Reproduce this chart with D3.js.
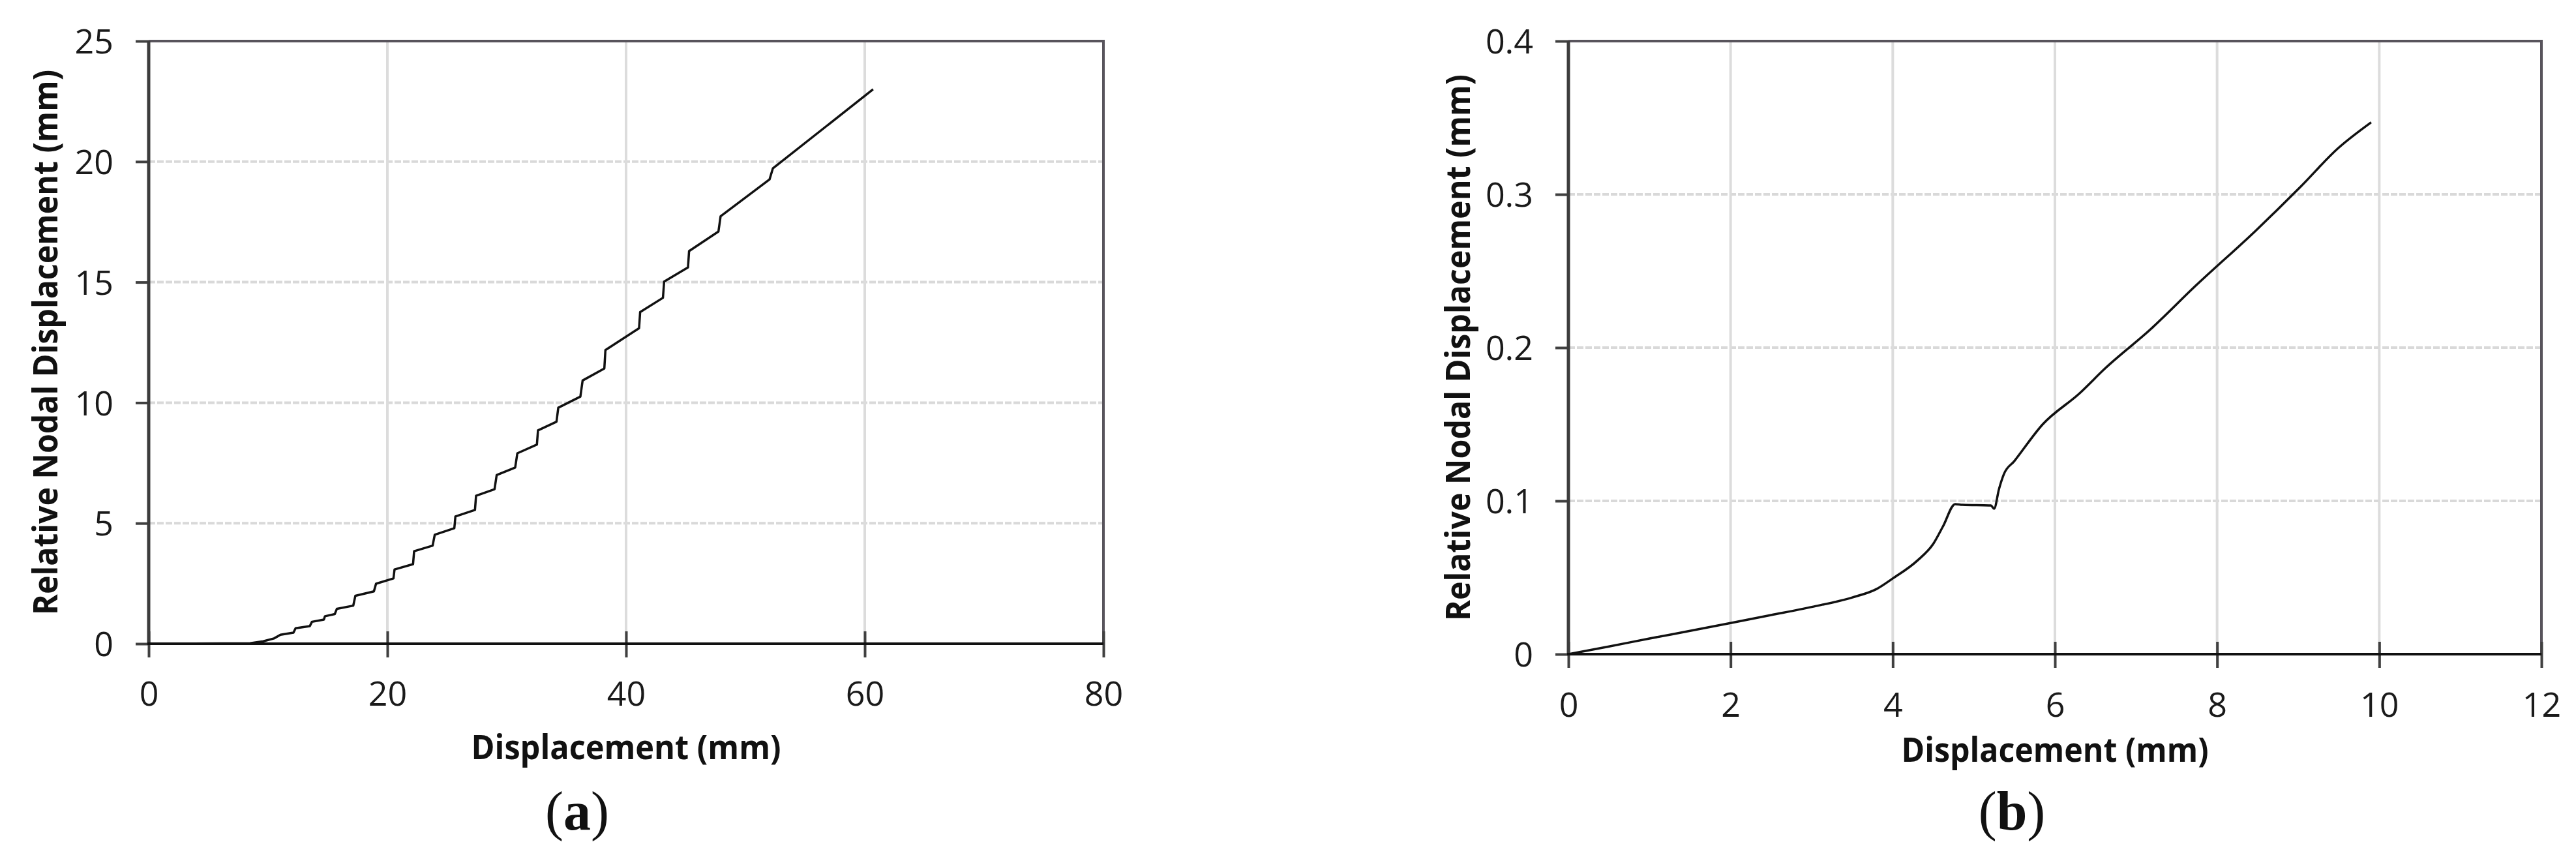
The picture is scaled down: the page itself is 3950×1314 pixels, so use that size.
<!DOCTYPE html>
<html>
<head>
<meta charset="utf-8">
<script src="https://cdn.jsdelivr.net/npm/d3@7"></script>
<style>
  body { margin: 0; background: #fff; }
  svg { display: block; }
</style>
</head>
<body>
<div id="fig"></div>
<script>
// ---- panel (a) data ----
const dispA = [0, 8.5, 9.6, 10.5, 11.04, 12.13, 12.31, 13.50, 13.68, 14.68, 14.77, 15.59, 15.77,
  17.14, 17.32, 18.87, 19.05, 20.51, 20.60, 22.15, 22.24, 23.79, 23.97, 25.61, 25.70, 27.34, 27.43,
  28.98, 29.16, 30.71, 30.89, 32.53, 32.62, 34.17, 34.32, 36.17, 36.36, 38.18, 38.27, 41.09, 41.18,
  43.09, 43.19, 45.19, 45.28, 47.74, 47.92, 52.02, 52.30, 60.7];
const relA = [0, 0.02, 0.1, 0.22, 0.37, 0.46, 0.64, 0.73, 0.91, 1.00, 1.14, 1.23, 1.45,
  1.58, 1.99, 2.17, 2.49, 2.71, 3.08, 3.30, 3.84, 4.07, 4.52, 4.79, 5.28, 5.55, 6.14,
  6.41, 7.00, 7.31, 7.90, 8.26, 8.85, 9.21, 9.79, 10.25, 10.92, 11.42, 12.18, 13.09, 13.76,
  14.35, 15.02, 15.61, 16.29, 17.10, 17.73, 19.26, 19.72, 23.0];
const xTicksA = [0, 20, 40, 60, 80];
const yTicksA = [0, 5, 10, 15, 20, 25];
const yLabelsA = ["0", "5", "10", "15", "20", "25"];

// ---- panel (b) data ----
const dispB = [0, 0.5, 1, 1.5, 2, 2.5, 3, 3.5, 3.8, 4, 4.3, 4.5, 4.62, 4.77, 4.86, 5.21, 5.25,
  5.31, 5.37, 5.5, 5.85, 6.3, 6.63, 7.18, 7.74, 8.47, 9.03, 9.49, 9.9];
const relB = [0, 0.005, 0.0102, 0.0152, 0.0203, 0.0255, 0.0308, 0.037, 0.0425, 0.0494, 0.0609, 0.072,
  0.0834, 0.0979, 0.0974, 0.097, 0.0949, 0.1077, 0.1174, 0.126, 0.150, 0.170, 0.187, 0.212, 0.2406,
  0.276, 0.305, 0.330, 0.347];
const xTicksB = [0, 2, 4, 6, 8, 10, 12];
const yTicksB = [0, 0.1, 0.2, 0.3, 0.4];
const yLabelsB = ["0", "0.1", "0.2", "0.3", "0.4"];

const xTitle = "Displacement (mm)";
const yTitle = "Relative Nodal Displacement (mm)";
const panelTags = ["a", "b"];

const W = 3950, H = 1314;
const tickFont = '"Open Sans", "DejaVu Sans", sans-serif';

const svg = d3.select('#fig').append('svg')
  .attr('width', W)
  .attr('height', H)
  .style('background', '#fff');

function drawPanel(p) {
  const g = svg.append('g');

  const x = d3.scaleLinear().domain(p.xDomain).range([p.left, p.right]);
  const y = d3.scaleLinear().domain(p.yDomain).range([p.bottom, p.top]);

  // grid
  g.append('g').selectAll('line.hgrid')
    .data(p.yTicks.slice(1, -1))
    .enter().append('line')
    .attr('class', 'hgrid')
    .attr('x1', p.left).attr('x2', p.right)
    .attr('y1', d => y(d)).attr('y2', d => y(d))
    .attr('stroke', '#d9d9d9')
    .attr('stroke-width', 4)
    .attr('stroke-dasharray', '10,3');

  g.append('g').selectAll('line.vgrid')
    .data(p.xTicks.slice(1, -1))
    .enter().append('line')
    .attr('class', 'vgrid')
    .attr('x1', d => x(d)).attr('x2', d => x(d))
    .attr('y1', p.top).attr('y2', p.bottom)
    .attr('stroke', '#dcdcdc')
    .attr('stroke-width', 4);

  // plot frame: top + right border
  g.append('path')
    .attr('d', `M${p.left},${p.top}H${p.right}V${p.bottom}`)
    .attr('fill', 'none')
    .attr('stroke', '#58545c')
    .attr('stroke-width', 4);

  // curve
  const pts = p.xs.map((d, i) => [d, p.ys[i]]);
  const line = d3.line()
    .x(d => x(d[0]))
    .y(d => y(d[1]))
    .curve(p.curve);
  g.append('path')
    .datum(pts)
    .attr('d', line)
    .attr('fill', 'none')
    .attr('stroke', '#111')
    .attr('stroke-width', 3.5)
    .attr('stroke-linejoin', 'round');

  // x axis (ticks cross the axis line)
  const gx = g.append('g')
    .attr('transform', `translate(0,${p.bottom})`)
    .call(d3.axisBottom(x).tickValues(p.xTicks).tickSize(21).tickFormat(d3.format('d')));
  gx.select('.domain').remove();
  gx.selectAll('.tick line')
    .attr('y1', -19)
    .attr('stroke', '#404040')
    .attr('stroke-width', 4);
  gx.selectAll('.tick text')
    .attr('y', p.xLabelOffset)
    .attr('dy', '0.36em')
    .attr('fill', '#1a1a1a')
    .style('font-family', tickFont)
    .style('font-size', '52px');

  // y axis
  const gy = g.append('g')
    .attr('transform', `translate(${p.left},0)`)
    .call(d3.axisLeft(y).tickValues(p.yTicks).tickSize(20).tickFormat((d, i) => p.yLabels[i]));
  gy.select('.domain').remove();
  gy.selectAll('.tick line')
    .attr('stroke', '#404040')
    .attr('stroke-width', 4);
  gy.selectAll('.tick text')
    .attr('x', -54)
    .attr('dy', '0.36em')
    .attr('fill', '#1a1a1a')
    .style('font-family', tickFont)
    .style('font-size', '52px');

  // axis lines on top
  g.append('line')
    .attr('x1', p.left).attr('x2', p.left)
    .attr('y1', p.top).attr('y2', p.bottom)
    .attr('stroke', '#3c3c3c')
    .attr('stroke-width', 5);
  g.append('line')
    .attr('x1', p.left - 2).attr('x2', p.right)
    .attr('y1', p.bottom).attr('y2', p.bottom)
    .attr('stroke', '#111')
    .attr('stroke-width', 4);

  // titles
  g.append('text')
    .attr('x', (p.left + p.right) / 2)
    .attr('y', p.xTitleBase)
    .attr('text-anchor', 'middle')
    .attr('textLength', p.xTitleLen)
    .attr('lengthAdjust', 'spacingAndGlyphs')
    .style('font-family', tickFont)
    .style('font-weight', 'bold')
    .style('font-size', '52px')
    .attr('fill', '#111')
    .text(xTitle);

  const cy = (p.top + p.bottom) / 2;
  g.append('text')
    .attr('transform', `translate(${p.yTitleBase},${cy}) rotate(-90)`)
    .attr('text-anchor', 'middle')
    .attr('textLength', p.yTitleLen)
    .attr('lengthAdjust', 'spacingAndGlyphs')
    .style('font-family', tickFont)
    .style('font-weight', 'bold')
    .style('font-size', '52px')
    .attr('fill', '#111')
    .text(yTitle);

  // (a) / (b)
  const tag = g.append('text')
    .attr('x', p.tagX)
    .attr('y', 1272)
    .attr('text-anchor', 'middle')
    .style('font-family', '"Liberation Serif", "DejaVu Serif", serif')
    .style('font-size', '84px')
    .attr('fill', '#111');
  tag.append('tspan').text('(');
  tag.append('tspan').style('font-weight', 'bold').text(p.tag);
  tag.append('tspan').text(')');
}

drawPanel({
  left: 228, right: 1692, top: 63, bottom: 987,
  xDomain: [0, 80], yDomain: [0, 25],
  xTicks: xTicksA, yTicks: yTicksA, yLabels: yLabelsA,
  xs: dispA, ys: relA, curve: d3.curveLinear,
  xLabelOffset: 76, xTitleBase: 1164, xTitleLen: 475,
  yTitleBase: 88, yTitleLen: 836,
  tagX: 885, tag: panelTags[0]
});

// (b) is a smooth curve apart from the little plateau near 5 mm
drawPanel({
  left: 2405, right: 3897, top: 63, bottom: 1003,
  xDomain: [0, 12], yDomain: [0, 0.4],
  xTicks: xTicksB, yTicks: yTicksB, yLabels: yLabelsB,
  xs: dispB, ys: relB, curve: d3.curveMonotoneX,
  xLabelOffset: 77, xTitleBase: 1168, xTitleLen: 471,
  yTitleBase: 2254, yTitleLen: 838,
  tagX: 3085, tag: panelTags[1]
});
</script>
</body>
</html>
